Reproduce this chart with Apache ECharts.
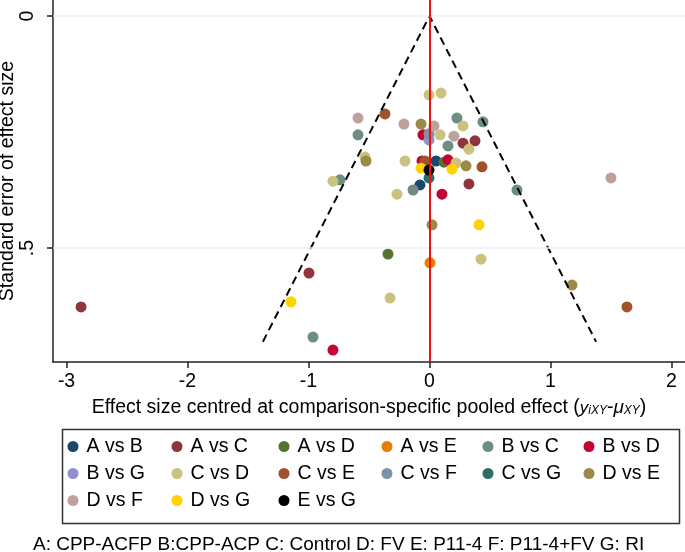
<!DOCTYPE html>
<html>
<head>
<meta charset="utf-8">
<script src="https://cdn.jsdelivr.net/npm/echarts@6/dist/echarts.min.js"></script>
<style>html,body{margin:0;padding:0;background:#fff}#c{width:685px;height:552px}</style>
</head>
<body>
<div id="c"></div>
<script>
// ---- data: [effect centred, standard error] ----
const AvsB = [[0.054,0.3125],[-0.079,0.364]];
const AvsC = [[0.277,0.274],[0.376,0.269],[0.326,0.362],[-0.996,0.554],[-2.880,0.627]];
const AvsD = [[0.120,0.315],[-0.343,0.513]];
const AvsE = [[0.004,0.532]];
const BvsC = [[-0.591,0.256],[0.227,0.220],[0.442,0.228],[0.153,0.280],[-0.740,0.353],[-0.136,0.375],[0.723,0.375],[-0.963,0.692]];
const BvsD = [[-0.054,0.256],[-0.062,0.3125],[0.153,0.310],[0.103,0.384],[-0.798,0.720]];
const BvsG = [[-0.004,0.267]];
const CvsD = [[-0.004,0.170],[0.095,0.166],[0.277,0.237],[0.087,0.256],[0.326,0.287],[-0.533,0.304],[-0.202,0.3125],[0.219,0.317],[-0.798,0.356],[-0.269,0.384],[0.426,0.524],[-0.326,0.608]];
const CvsE = [[-0.368,0.211],[-0.037,0.3125],[0.434,0.325],[1.632,0.627]];
const CvsF = [[-0.004,0.254]];
const CvsG = [[-0.004,0.349]];
const DvsE = [[-0.070,0.233],[-0.525,0.3125],[0.302,0.323],[0.021,0.450],[1.178,0.580]];
const DvsF = [[-0.591,0.220],[-0.211,0.233],[0.037,0.237],[0.202,0.259],[1.500,0.349]];
const DvsG = [[-0.070,0.328],[0.186,0.330],[0.409,0.450],[-1.145,0.616]];
const EvsG = [[-0.004,0.332]];
const funnel = [[-1.377,0.702],[0,0],[1.377,0.702]];

const seriesNames = ['A vs B','A vs C','A vs D','A vs E','B vs C','B vs D','B vs G','C vs D','C vs E','C vs F','C vs G','D vs E','D vs F','D vs G','E vs G'];
const seriesData = [AvsB,AvsC,AvsD,AvsE,BvsC,BvsD,BvsG,CvsD,CvsE,CvsF,CvsG,DvsE,DvsF,DvsG,EvsG];
const seriesColors = ['#1a476f','#90353b','#55752f','#e37e00','#6e8e84','#c10534','#938dd2','#cac27e','#a0522d','#7b92a8','#2d6d66','#9c8847','#bfa19c','#ffd200','#000000'];
const xTicks = [-3,-2,-1,0,1,2];
const yTicks = [0,0.5];
const legendCols = [['A vs B','B vs G','D vs F'],['A vs C','C vs D','D vs G'],['A vs D','C vs E','E vs G'],['A vs E','C vs F'],['B vs C','C vs G'],['B vs D','D vs E']];
const footnote = 'A: CPP-ACFP B:CPP-ACP C: Control D: FV E: P11-4 F: P11-4+FV G: RI';

const FONT = 'Liberation Sans, Arial, sans-serif';
const FS = 19.5;
const chart = echarts.init(document.getElementById('c'));
const series = [];
series.push({
  type:'line', data:[], silent:true, z:1,
  markLine:{symbol:'none', silent:true, label:{show:false},
    lineStyle:{color:'#eaf2f3', width:1.5, type:'solid'},
    data: yTicks.map(v=>({yAxis:v}))}
});
series.push({
  type:'line', data:[], silent:true, z:2,
  markLine:{symbol:'none', silent:true, label:{show:false},
    lineStyle:{color:'#ee1111', width:2, type:'solid'},
    data:[{xAxis:0}]}
});
seriesNames.forEach((n,i)=>{
  series.push({name:n, type:'scatter', data:seriesData[i], symbol:'circle', symbolSize:11,
    itemStyle:{color:seriesColors[i], opacity:1}, z:3});
});
series.push({type:'line', data:funnel, symbol:'none', silent:true, z:4,
  lineStyle:{color:'#000', width:2, type:[8,5]}});

const legends = legendCols.map((col,ci)=>({
  orient:'vertical', left:[67.5,171.5,278.5,381.5,482.5,583.5][ci], top:433,
  data:col.map(n=>({name:n, icon:'circle'})),
  itemWidth:17, itemHeight:11, itemGap:0, padding:0,
  selectedMode:false,
  textStyle:{fontFamily:FONT, fontSize:FS, color:'#000', lineHeight:27, padding:[0,0,0,0]}
}));

chart.setOption({
  animation:false,
  color: seriesColors,
  grid:{left:53, right:0, top:0, bottom:190, containLabel:false, outerBoundsMode:'none'},
  xAxis:{type:'value', min:-3.112, max:2.112,
    axisLine:{onZero:false, lineStyle:{color:'#222', width:1.5}},
    axisTick:{customValues:xTicks, length:6, lineStyle:{color:'#222', width:1.5}},
    axisLabel:{customValues:xTicks, fontFamily:FONT, fontSize:FS, color:'#000', margin:10},
    splitLine:{show:false},
    name:'Effect size centred at comparison-specific pooled effect ({it|y}{sub|iXY}-{mu|μ}{sub|XY})',
    nameLocation:'middle', nameGap:36, nameMoveOverlap:false,
    nameTextStyle:{fontFamily:FONT, fontSize:FS, color:'#000',
      rich:{it:{fontFamily:FONT, fontSize:17, fontStyle:'italic', color:'#000'},
            sub:{fontFamily:FONT, fontSize:12, fontStyle:'italic', color:'#000', padding:[6,0,0,0]},
            mu:{fontFamily:FONT, fontSize:19, fontStyle:'italic', color:'#000'}}}
  },
  yAxis:{type:'value', inverse:true, min:-0.0345, max:0.7457,
    axisLine:{onZero:false, lineStyle:{color:'#222', width:1.5}},
    axisTick:{customValues:yTicks, length:6, lineStyle:{color:'#222', width:1.5}},
    axisLabel:{customValues:yTicks, rotate:90, fontFamily:FONT, fontSize:FS, color:'#000', margin:15,
      formatter:v=> v===0.5 ? '.5' : String(v)},
    splitLine:{show:false},
    name:'Standard error of effect size', nameLocation:'middle', nameGap:35, nameRotate:90, nameMoveOverlap:false,
    nameTextStyle:{fontFamily:FONT, fontSize:FS, color:'#000'}
  },
  legend: legends,
  graphic:[
    {type:'rect', left:60, top:427, shape:{width:617, height:94}, style:{fill:'none', stroke:'#333', lineWidth:1.5}, silent:true},
    {type:'text', x:33, y:545, style:{text:footnote, font:'19px '+FONT, fill:'#000', verticalAlign:'middle', align:'left'}}
  ],
  series: series
});
</script>
</body>
</html>
